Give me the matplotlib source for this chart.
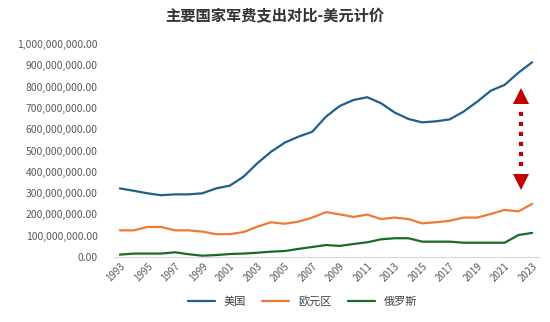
import numpy as np
import matplotlib.pyplot as plt
from matplotlib.ticker import FuncFormatter

plt.rcParams['font.family'] = ['Noto Sans CJK SC', 'DejaVu Sans']

# data (USD)
years = list(range(1993, 2024))
usa = [322, 311, 299, 290, 294, 294, 299, 322, 335, 377, 440, 494, 537, 565, 588,
       659, 709, 737, 750, 722, 678, 648, 632, 637, 646, 682, 729, 781, 808, 865, 914]
euro = [125, 125, 141, 141, 125, 125, 119, 107, 107, 117, 142, 163, 156, 166, 185,
        211, 200, 188, 199, 178, 185, 178, 158, 163, 170, 185, 185, 202, 221, 214, 249]
russia = [11, 16, 16, 16, 22, 13, 6, 9, 14, 16, 20, 25, 28, 38, 47,
          56, 52, 61, 69, 83, 88, 88, 72, 72, 72, 67, 67, 67, 67, 103, 113]
names = ['美国', '欧元区', '俄罗斯']
colors = ['#1f5f8b', '#ef7b30', '#1b6b22']

usa = np.array(usa) * 1e6
euro = np.array(euro) * 1e6
russia = np.array(russia) * 1e6

fig = plt.figure(figsize=(5.5, 3.22), dpi=100)
ax = fig.add_axes([0.2055, 0.2019, 0.7745, 0.6615])

for s, n, c in zip([usa, euro, russia], names, colors):
    ax.plot(years, s, color=c, lw=1.6, label=n, solid_capstyle='round')

# red double arrow
ax.plot([2022.2, 2022.2], [425e6, 690e6], color='#c00000', lw=3.0,
        linestyle=(0, (1, 1.4)), dash_capstyle='butt')
ax.plot([2022.2], [758e6], marker='^', ms=11, color='#c00000', mew=0)
ax.plot([2022.2], [350e6], marker='v', ms=11, color='#c00000', mew=0)

ax.set_xlim(1992.5, 2023.5)
ax.set_ylim(0, 1e9)
ax.set_yticks(np.arange(0, 1e9 + 1, 1e8))
ax.yaxis.set_major_formatter(FuncFormatter(lambda v, p: '{:,.2f}'.format(v)))
ax.set_xticks(years[::2])
ax.tick_params(axis='x', labelrotation=45, length=0, labelsize=7, colors='#595959', pad=3)
ax.tick_params(axis='y', length=0, labelsize=7.5, colors='#595959', pad=11)
for lab in ax.get_xticklabels():
    lab.set_ha('right')
    lab.set_rotation_mode('anchor')

for sp in ['top', 'right', 'left']:
    ax.spines[sp].set_visible(False)
ax.spines['bottom'].set_color('#d9d9d9')

fig.suptitle('主要国家军费支出对比-美元计价', y=0.975, fontsize=11, fontweight='bold', color='#333333')
fig.legend(loc='center', bbox_to_anchor=(0.55, 0.065), ncol=3, frameon=False,
           fontsize=8, handlelength=2.4, columnspacing=1.5, labelcolor='#404040')

plt.savefig('out.png', dpi=100)
